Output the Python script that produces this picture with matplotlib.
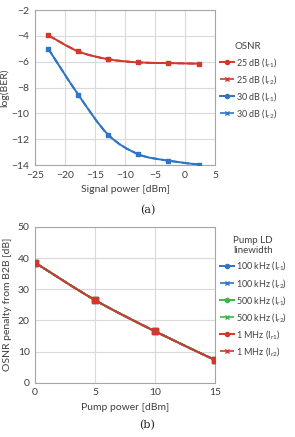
import numpy as np
import matplotlib
matplotlib.use("Agg")
import matplotlib.pyplot as plt
from matplotlib.path import Path
from matplotlib.patches import PathPatch
from matplotlib.lines import Line2D

plt.rcParams['font.family'] = ['Lato', 'DejaVu Sans']
plt.rcParams['mathtext.default'] = 'regular'

# (a) BER vs signal power
sig_power = [-22.8, -17.8, -12.8, -7.8, -2.8, 2.3]
ber_25 = [-3.95, -5.2, -5.8, -6.05, -6.1, -6.15]
ber_30 = [-5.0, -8.55, -11.65, -13.15, -13.65, -13.95]

# (b) OSNR penalty vs pump power
pump_power = [0, 5, 10, 15]
penalty = [38.5, 26.5, 16.5, 7.3]

red = '#D0392B'
blue = '#2E75C6'
green = '#3DB54A'
grid_c = '#D9D9D9'
spine_c = '#A6A6A6'
txt_c = '#404040'


def smooth(ax, x, y, color, ls='-', lw=1.4, z=2):
    # Excel-style smoothed line, drawn as bezier segments in data coords
    x = np.asarray(x, float)
    y = np.asarray(y, float)
    n = len(x)
    verts = [(x[0], y[0])]
    codes = [Path.MOVETO]
    for i in range(n - 1):
        p0 = i - 1 if i > 0 else i
        p3 = i + 2 if i + 2 < n else i + 1
        c1 = (x[i] + (x[i + 1] - x[p0]) / 6, y[i] + (y[i + 1] - y[p0]) / 6)
        c2 = (x[i + 1] - (x[p3] - x[i]) / 6, y[i + 1] - (y[p3] - y[i]) / 6)
        verts += [c1, c2, (x[i + 1], y[i + 1])]
        codes += [Path.CURVE4] * 3
    ax.add_patch(PathPatch(Path(verts, codes), fill=False, edgecolor=color,
                           lw=lw, ls=ls, zorder=z))


def style(ax):
    ax.grid(True, color=grid_c, lw=0.8)
    ax.set_axisbelow(True)
    for s in ax.spines.values():
        s.set_color(spine_c)
        s.set_linewidth(0.8)
    ax.tick_params(length=0, labelsize=7.5, colors=txt_c, pad=4)


def legend(ax, handles, labels, title, anchor):
    leg = ax.legend(handles, labels, title=title, loc='upper left',
                    bbox_to_anchor=anchor, frameon=False, fontsize=6.5,
                    title_fontsize=7, handlelength=1.6, handletextpad=0.2,
                    labelspacing=0.45, borderaxespad=0.3, borderpad=0.2)
    for t in leg.get_texts():
        t.set_color(txt_c)
    leg.get_title().set_color(txt_c)
    return leg


fig = plt.figure(figsize=(2.95, 4.37), dpi=100)

# ---- (a)
ax1 = fig.add_axes([0.119, 0.622, 0.610, 0.355])
for yv, c in [(ber_25, red), (ber_30, blue)]:
    smooth(ax1, sig_power, yv, c, ls='--', z=2)
    ax1.plot(sig_power, yv, 'x', color=c, ms=2.5, zorder=2)
    smooth(ax1, sig_power, yv, c, z=3)
    ax1.plot(sig_power, yv, 's', color=c, ms=3.5, zorder=4)
ax1.set_xlim(-25, 5)
ax1.set_ylim(-14, -2)
ax1.set_xticks(range(-25, 6, 5))
ax1.set_yticks(range(-14, -1, 2))
style(ax1)
ax1.set_xlabel('Signal power [dBm]', fontsize=7.5, color=txt_c, labelpad=4)
ax1.set_ylabel('log(BER)', fontsize=7.5, color=txt_c, labelpad=2)

h1 = [Line2D([], [], color=red, marker='o', ms=3, lw=1.4),
      Line2D([], [], color=red, marker='x', ms=3.5, lw=1.2, ls='--'),
      Line2D([], [], color=blue, marker='o', ms=3, lw=1.4),
      Line2D([], [], color=blue, marker='x', ms=3.5, lw=1.2, ls='--')]
l1 = ['25 dB (I$_{r1}$)', '25 dB (I$_{r2}$)', '30 dB (I$_{r1}$)', '30 dB (I$_{r2}$)']
legend(ax1, h1, l1, 'OSNR', (1.0, 0.82))

fig.text(0.5, 1 - 210 / 437, '(a)', ha='center', va='center', fontsize=8,
         family='DejaVu Serif', color='#222222')

# ---- (b)
ax2 = fig.add_axes([0.119, 0.124, 0.610, 0.357])
for c in [blue, green, red]:
    smooth(ax2, pump_power, penalty, c, ls='--', z=2)
    ax2.plot(pump_power, penalty, 'x', color=c, ms=2.5, zorder=2)
    smooth(ax2, pump_power, penalty, c, z=3)
    ax2.plot(pump_power, penalty, 's', color=c, ms=4, zorder=4)
ax2.set_xlim(0, 15)
ax2.set_ylim(0, 50)
ax2.set_xticks(range(0, 16, 5))
ax2.set_yticks(range(0, 51, 10))
style(ax2)
ax2.set_xlabel('Pump power [dBm]', fontsize=7.5, color=txt_c, labelpad=4)
ax2.set_ylabel('OSNR penalty from B2B [dB]', fontsize=7.5, color=txt_c, labelpad=4)

h2 = []
for c in [blue, green, red]:
    h2.append(Line2D([], [], color=c, marker='o', ms=3, lw=1.4))
    h2.append(Line2D([], [], color=c, marker='x', ms=3.5, lw=1.2, ls='--'))
l2 = ['100 kHz (I$_{r1}$)', '100 kHz (I$_{r2}$)', '500 kHz (I$_{r1}$)',
      '500 kHz (I$_{r2}$)', '1 MHz (I$_{r1}$)', '1 MHz (I$_{r2}$)']
legend(ax2, h2, l2, 'Pump LD\nlinewidth', (1.0, 0.97))

fig.text(0.5, 1 - 425 / 437, '(b)', ha='center', va='center', fontsize=8,
         family='DejaVu Serif', color='#222222')

fig.savefig('out.png', dpi=100, facecolor='white')
